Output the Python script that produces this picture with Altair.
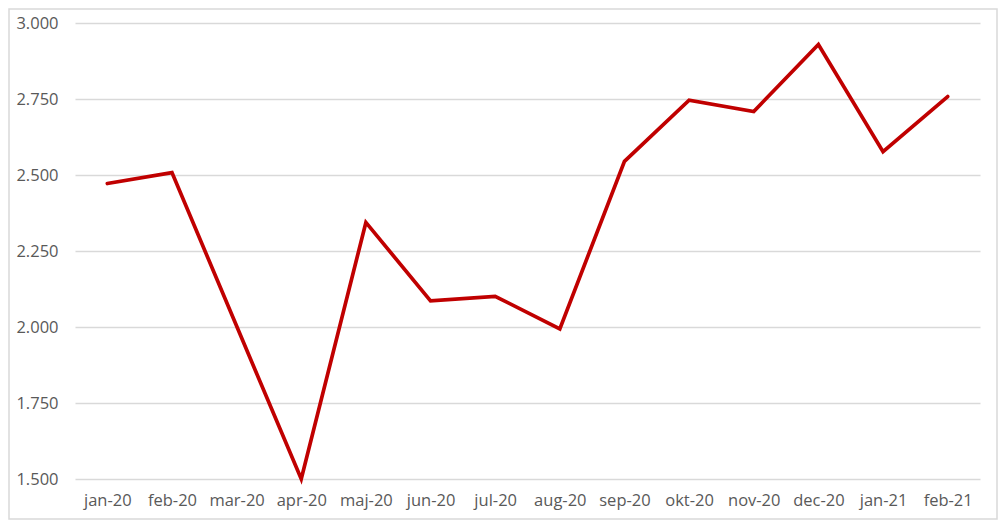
import altair as alt
import pandas as pd

months = ["jan-20", "feb-20", "mar-20", "apr-20", "maj-20", "jun-20", "jul-20",
          "aug-20", "sep-20", "okt-20", "nov-20", "dec-20", "jan-21", "feb-21"]
values = [2472, 2508, 2003, 1500, 2344, 2086, 2101, 1994, 2545, 2746, 2709, 2929, 2577, 2758]

df = pd.DataFrame({"month": months, "value": values})

FONT = "Open Sans"
GRAY_TXT = "#595959"
GRID = "#D9D9D9"

base = alt.Chart(df)

line = base.mark_line(color="#C00000", strokeWidth=3.7, strokeJoin="miter", strokeCap="round").encode(
    x=alt.X("month:N", sort=months, title=None,
            scale=alt.Scale(paddingOuter=0.5, paddingInner=0),
            axis=alt.Axis(labelAngle=0, ticks=False, domain=False, grid=False,
                          labelPadding=13, labelFontSize=16.5, labelColor=GRAY_TXT,
                          labelFont=FONT)),
    y=alt.Y("value:Q", title=None,
            scale=alt.Scale(domain=[1500, 3000], nice=False, zero=False),
            axis=alt.Axis(values=[1500, 1750, 2000, 2250, 2500, 2750, 3000],
                          labelExpr="replace(format(datum.value, ',.0f'), ',', '.')",
                          ticks=False, domain=False, grid=True, gridColor=GRID,
                          gridWidth=1.3, labelPadding=17, labelFontSize=16.5,
                          labelColor=GRAY_TXT, labelFont=FONT)),
)

frame = alt.Chart(pd.DataFrame({"k": [0]})).mark_rect(
    fill=None, stroke=GRID, strokeWidth=1.5
).encode(
    x=alt.value(-66), x2=alt.value(922), y=alt.value(-14), y2=alt.value(496)
)

chart = alt.layer(frame, line).properties(
    width=905, height=456,
    padding={"left": 67, "top": 15, "right": 18, "bottom": 41},
    autosize=alt.AutoSizeParams(type="none"),
    background="white",
).configure_view(stroke=None)

chart.save("out.html", embed_options={"renderer": "svg", "actions": False})
